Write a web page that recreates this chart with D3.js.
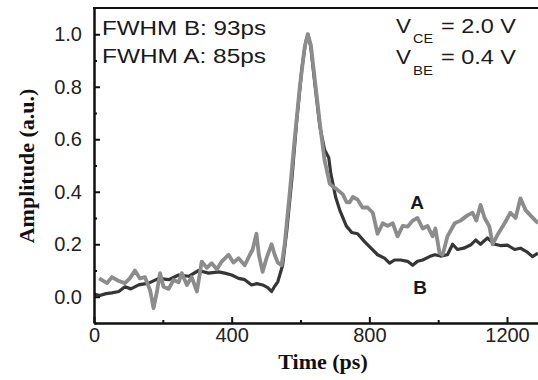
<!DOCTYPE html>
<html>
<head>
<meta charset="utf-8">
<script src="https://cdn.jsdelivr.net/npm/d3@7"></script>
<style>
  body { margin: 0; background: #fff; }
  svg { display: block; }
</style>
</head>
<body>
<svg width="538" height="380"></svg>
<script>
// time (ps) and amplitude
const timeA = [15, 38, 52, 72, 90, 104, 119, 133, 148, 163, 173, 183, 192, 202, 217, 231, 246, 255, 270, 284, 299, 313, 328, 342, 357, 371, 391, 405, 420, 438, 453, 461, 472, 479, 490, 502, 516, 525, 534, 545, 554, 569, 583, 598, 612, 621, 630, 644, 659, 670, 685, 694, 705, 723, 734, 743, 752, 766, 780, 795, 810, 824, 839, 853, 868, 882, 897, 911, 926, 940, 955, 969, 984, 992, 1004, 1013, 1027, 1048, 1065, 1085, 1100, 1111, 1123, 1135, 1149, 1158, 1172, 1193, 1210, 1225, 1239, 1254, 1268, 1290];
const ampA = [0.07, 0.052, 0.075, 0.06, 0.052, 0.07, 0.10, 0.07, 0.075, 0.025, -0.043, 0.02, 0.09, 0.038, 0.03, 0.064, 0.055, 0.09, 0.045, 0.075, 0.02, 0.134, 0.11, 0.128, 0.105, 0.134, 0.16, 0.13, 0.147, 0.12, 0.16, 0.18, 0.24, 0.16, 0.095, 0.15, 0.2, 0.16, 0.13, 0.12, 0.2, 0.4, 0.6, 0.8, 0.95, 1.0, 0.96, 0.8, 0.63, 0.52, 0.43, 0.42, 0.41, 0.39, 0.36, 0.36, 0.38, 0.37, 0.34, 0.34, 0.32, 0.24, 0.28, 0.27, 0.28, 0.23, 0.27, 0.267, 0.29, 0.30, 0.26, 0.27, 0.23, 0.26, 0.166, 0.16, 0.23, 0.28, 0.29, 0.31, 0.32, 0.29, 0.35, 0.30, 0.267, 0.20, 0.235, 0.28, 0.32, 0.30, 0.375, 0.33, 0.31, 0.28];

const timeB = [0, 17, 35, 52, 72, 90, 107, 130, 159, 188, 217, 246, 275, 304, 333, 362, 380, 400, 420, 438, 458, 473, 490, 505, 516, 525, 534, 548, 560, 575, 589, 604, 615, 622, 630, 641, 656, 670, 682, 688, 702, 714, 733, 749, 766, 786, 804, 824, 844, 859, 873, 891, 911, 926, 940, 955, 975, 990, 1007, 1027, 1042, 1056, 1074, 1094, 1109, 1123, 1143, 1164, 1181, 1201, 1222, 1239, 1259, 1274, 1290];
const ampB = [0.01, 0.005, 0.012, 0.015, 0.02, 0.038, 0.03, 0.045, 0.052, 0.07, 0.065, 0.083, 0.078, 0.10, 0.09, 0.095, 0.09, 0.083, 0.07, 0.065, 0.045, 0.05, 0.045, 0.035, 0.02, 0.04, 0.057, 0.12, 0.25, 0.45, 0.67, 0.87, 0.97, 1.0, 0.95, 0.82, 0.65, 0.56, 0.53, 0.47, 0.38, 0.33, 0.27, 0.245, 0.24, 0.21, 0.186, 0.16, 0.147, 0.128, 0.14, 0.14, 0.135, 0.12, 0.135, 0.14, 0.153, 0.16, 0.155, 0.16, 0.20, 0.18, 0.185, 0.197, 0.216, 0.2, 0.224, 0.2, 0.195, 0.197, 0.18, 0.185, 0.17, 0.153, 0.166];

const xMajor = [0, 400, 800, 1200];
const xMinor = [200, 600, 1000];
const yMajor = [0.0, 0.2, 0.4, 0.6, 0.8, 1.0];
const yMinor = [-0.1, 0.1, 0.3, 0.5, 0.7, 0.9];

const svg = d3.select('svg');
const mLeft = 94, mTop = 8, mBottom = 323;

const x = d3.scaleLinear().domain([0, 1300]).range([mLeft, mLeft + 1300 * 0.34417]);
const y = d3.scaleLinear().domain([-0.1, 1.1]).range([mBottom, mTop]);

svg.append('clipPath').attr('id', 'plot')
  .append('rect')
  .attr('x', mLeft).attr('y', mTop)
  .attr('width', 538 - mLeft).attr('height', mBottom - mTop);

const line = d3.line()
  .x(d => x(d[0]))
  .y(d => y(d[1]));

const curves = svg.append('g').attr('clip-path', 'url(#plot)');

curves.append('path')
  .datum(d3.zip(timeB, ampB))
  .attr('d', line)
  .attr('fill', 'none')
  .attr('stroke', '#363636')
  .attr('stroke-width', 3.2)
  .attr('stroke-linejoin', 'round');

curves.append('path')
  .datum(d3.zip(timeA, ampA))
  .attr('d', line)
  .attr('fill', 'none')
  .attr('stroke', '#8c8c8c')
  .attr('stroke-width', 3.8)
  .attr('stroke-linejoin', 'round');

// axes (ticks point inward)
const xAxis = svg.append('g')
  .attr('transform', `translate(0,${mBottom})`)
  .call(d3.axisBottom(x).tickValues(xMajor).tickSizeInner(-6).tickSizeOuter(0).tickPadding(5).tickFormat(d3.format('d')));
xAxis.append('g')
  .call(d3.axisBottom(x).tickValues(xMinor).tickSizeInner(-3).tickSizeOuter(0).tickFormat(''));

const yAxis = svg.append('g')
  .attr('transform', `translate(${mLeft},0)`)
  .call(d3.axisLeft(y).tickValues(yMajor).tickSizeInner(-6).tickSizeOuter(0).tickPadding(12).tickFormat(d3.format('.1f')));
yAxis.append('g')
  .call(d3.axisLeft(y).tickValues(yMinor).tickSizeInner(-3).tickSizeOuter(0).tickFormat(''));

svg.selectAll('.domain').attr('stroke', '#111').attr('stroke-width', 2);
svg.selectAll('.tick line').attr('stroke', '#111').attr('stroke-width', 2);
svg.selectAll('.tick text')
  .attr('font-family', 'Liberation Sans, Arial, sans-serif')
  .attr('font-size', 20)
  .attr('fill', '#222');
xAxis.selectAll('.tick text').attr('dy', '0.72em');

// top frame line
svg.append('line')
  .attr('x1', mLeft - 1).attr('x2', 538)
  .attr('y1', mTop).attr('y2', mTop)
  .attr('stroke', '#111').attr('stroke-width', 2);

// axis titles
svg.append('text')
  .attr('x', 323).attr('y', 369)
  .attr('text-anchor', 'middle')
  .attr('font-family', 'Liberation Serif, Times New Roman, serif')
  .attr('font-weight', 'bold')
  .attr('font-size', 22)
  .attr('fill', '#111')
  .text('Time (ps)');

svg.append('text')
  .attr('transform', 'translate(34,166) rotate(-90)')
  .attr('text-anchor', 'middle')
  .attr('font-family', 'Liberation Serif, Times New Roman, serif')
  .attr('font-weight', 'bold')
  .attr('font-size', 22)
  .attr('fill', '#111')
  .text('Amplitude (a.u.)');

// annotations
const sans = 'Liberation Sans, Arial, sans-serif';
function label(txt, xp, yp, size, width, opts = {}) {
  const t = svg.append('text')
    .attr('x', xp).attr('y', yp)
    .attr('font-family', sans)
    .attr('font-size', size)
    .attr('fill', '#1a1a1a')
    .text(txt);
  if (width) t.attr('textLength', width).attr('lengthAdjust', 'spacingAndGlyphs');
  if (opts.bold) t.attr('font-weight', 'bold');
  if (opts.anchor) t.attr('text-anchor', opts.anchor);
  return t;
}

label('FWHM B: 93ps', 102, 35, 20, 164);
label('FWHM A: 85ps', 102, 63, 20, 164);

label('V', 396, 33, 20, 15);
label('CE', 413, 43, 13, 20);
label('= 2.0 V', 441, 33, 20, 75);
label('V', 396, 64, 20, 15);
label('BE', 413, 75, 13, 20);
label('= 0.4 V', 441, 64, 20, 75);

label('A', 417, 209, 19, null, { bold: true, anchor: 'middle' });
label('B', 420, 294, 19, null, { bold: true, anchor: 'middle' });
</script>
</body>
</html>
